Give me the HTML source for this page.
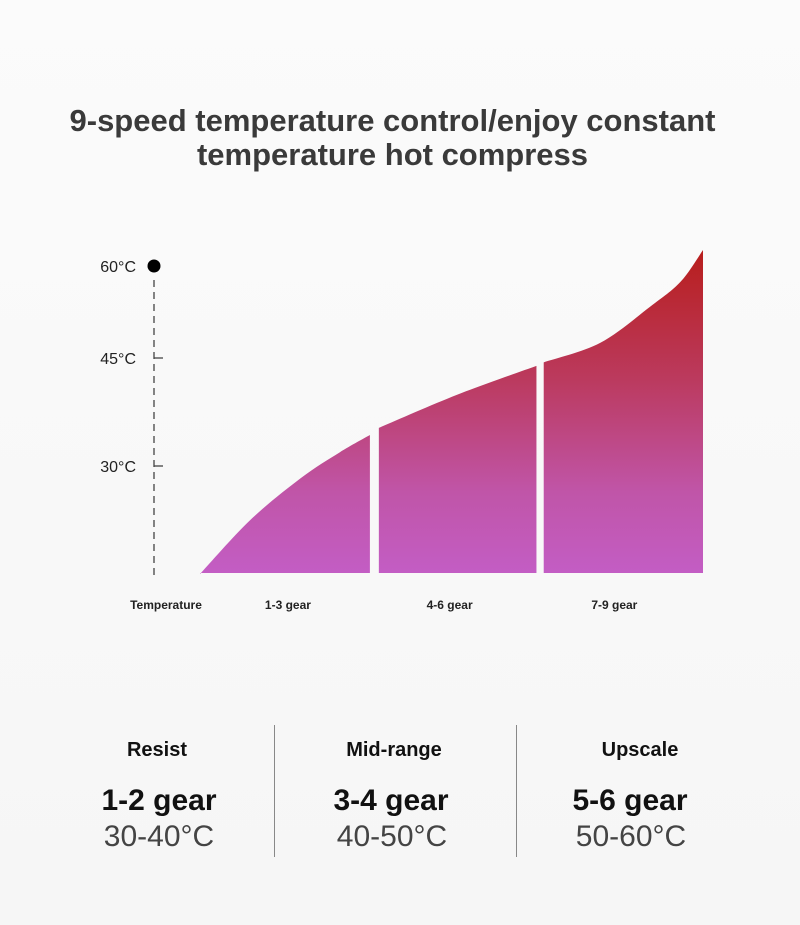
<!DOCTYPE html>
<html><head><meta charset="utf-8"><style>
body{margin:0;background:#fafafa;}
#wrap{position:relative;width:800px;height:925px;overflow:hidden;background:linear-gradient(#fbfbfb,#f6f6f6);font-family:"Liberation Sans","DejaVu Sans",sans-serif;}
.t{position:absolute;text-align:center;white-space:nowrap;}
</style></head><body>
<div id="wrap">
<div class="t" style="left:0;width:785px;top:104px;font-size:31px;font-weight:bold;color:#3a3a3a;line-height:34px;">9-speed temperature control/enjoy constant<br>temperature hot compress</div>
<svg id="chart" width="800" height="640" style="position:absolute;left:0;top:0">
<defs><linearGradient id="g" gradientUnits="userSpaceOnUse" x1="0" y1="250" x2="0" y2="573">
<stop offset="0" stop-color="#b81e1c"/><stop offset="0.4" stop-color="#bb3a5e"/><stop offset="0.75" stop-color="#c055a8"/><stop offset="1" stop-color="#c35dc4"/></linearGradient></defs>
</svg>
<div style="position:absolute;left:274px;top:725px;width:1px;height:132px;background:#888"></div>
<div style="position:absolute;left:516px;top:725px;width:1px;height:132px;background:#888"></div>
<div class="t" style="left:57px;width:200px;top:739px;font-size:20px;font-weight:bold;color:#111">Resist</div>
<div class="t" style="left:294px;width:200px;top:739px;font-size:20px;font-weight:bold;color:#111">Mid-range</div>
<div class="t" style="left:540px;width:200px;top:739px;font-size:20px;font-weight:bold;color:#111">Upscale</div>
<div class="t" style="left:59px;width:200px;top:784px;font-size:30px;font-weight:bold;color:#111">1-2 gear</div>
<div class="t" style="left:291px;width:200px;top:784px;font-size:30px;font-weight:bold;color:#111">3-4 gear</div>
<div class="t" style="left:530px;width:200px;top:784px;font-size:30px;font-weight:bold;color:#111">5-6 gear</div>
<div class="t" style="left:59px;width:200px;top:820px;font-size:30px;color:#444">30-40°C</div>
<div class="t" style="left:292px;width:200px;top:820px;font-size:30px;color:#444">40-50°C</div>
<div class="t" style="left:531px;width:200px;top:820px;font-size:30px;color:#444">50-60°C</div>
</div>
<script>
const tickValues=[30,45];
const tickLabels=["30°C","45°C"];
const topLabel="60°C";
const categories=["1-3 gear","4-6 gear","7-9 gear"];
const segGear=[[0,0.9,1.8,2.5,3.04],[3.2,4.6,6.02],[6.15,7.16,8.05,8.6,9]];
const segTemp=[[15,22.5,28.3,31.9,34.3],[35.3,39.9,43.9],[44.4,47.1,52.1,55.6,60]];
const labelOffset=[3,-8,-9];
const NS="http://www.w3.org/2000/svg";
const svg=document.getElementById('chart');
const y=t=>466-(t-30)*7.2;
const x=g=>200+g*(503/9);
const base=573;
function mk(tag,a){const e=document.createElementNS(NS,tag);for(const k in a)e.setAttribute(k,a[k]);svg.appendChild(e);return e;}
let ax=mk('line',{x1:154,y1:280,x2:154,y2:575,stroke:'#444','stroke-width':1.3,'stroke-dasharray':'7,5'});


let dot=mk('circle',{cx:154,cy:266,r:6.5,fill:'#000'});


let tl=mk('text',{x:136,y:272,'text-anchor':'end','font-size':16,fill:'#222','font-family':'Liberation Sans, sans-serif'});
tl.textContent=topLabel;


tickValues.forEach((v,i)=>{
 const yy=y(v);
 let tk=mk('line',{x1:154,y1:yy,x2:163,y2:yy,stroke:'#444','stroke-width':1.3});
 
 
 let t=mk('text',{x:136,y:yy+6,'text-anchor':'end','font-size':16,fill:'#222','font-family':'Liberation Sans, sans-serif'});
 t.textContent=tickLabels[i];
 
 
});
segGear.forEach((gs,i)=>{
 const ts=segTemp[i];
 const P=gs.map((g,j)=>[x(g),y(ts[j])]);
 let d='M'+P[0][0]+','+base+' L'+P[0][0]+','+P[0][1];
 for(let j=0;j<P.length-1;j++){
  const p0=P[j-1]||P[j],p1=P[j],p2=P[j+1],p3=P[j+2]||P[j+1];
  const c1=[p1[0]+(p2[0]-p0[0])/6,p1[1]+(p2[1]-p0[1])/6];
  const c2=[p2[0]-(p3[0]-p1[0])/6,p2[1]-(p3[1]-p1[1])/6];
  d+=' C'+c1[0]+','+c1[1]+' '+c2[0]+','+c2[1]+' '+p2[0]+','+p2[1];
 }
 d+=' L'+P[P.length-1][0]+','+base+' Z';
 let p=mk('path',{d:d,fill:'url(#g)'});
 
 
 let lb=mk('text',{x:(x(gs[0])+x(gs[gs.length-1]))/2+labelOffset[i],y:609,'text-anchor':'middle','font-size':12,'font-weight':'bold',fill:'#222','font-family':'Liberation Sans, sans-serif'});
 lb.textContent=categories[i];
 
 
});
let xt=mk('text',{x:166,y:609,'text-anchor':'middle','font-size':12,'font-weight':'bold',fill:'#222','font-family':'Liberation Sans, sans-serif'});
xt.textContent='Temperature';


</script>
</body></html>
